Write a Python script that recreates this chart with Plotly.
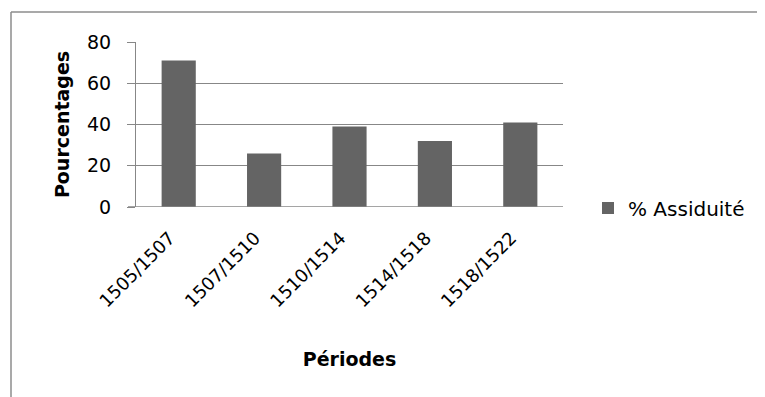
import plotly.graph_objects as go

categories = ["1505/1507", "1507/1510", "1510/1514", "1514/1518", "1518/1522"]
values = [71, 26, 39, 32, 41]
series_name = "% Assiduité"
y_ticks = [0, 20, 40, 60, 80]

# page offset (browser body margin)
OFF = 8
W, H = 765, 397
# plot area in reference pixel coords
X0, X1, Y0, Y1 = 136, 563, 42, 207
L, T = X0 - OFF, Y0 - OFF
R = W - (X1 - OFF)
B = H - (Y1 - OFF)
pw, ph = X1 - X0, Y1 - Y0

def px_x(x):
    return (x - X0) / pw

def px_y(y):
    return (Y1 - y) / ph

FONT = "DejaVu Sans"
GRID = "#878787"
BAR = "#646464"
FS = 19

fig = go.Figure()
fig.add_trace(go.Bar(x=categories, y=values, name=series_name,
                     marker=dict(color=BAR, line=dict(width=0)),
                     showlegend=True))

fig.update_layout(
    width=W, height=H,
    margin=dict(l=L, r=R, t=T, b=B, pad=0, autoexpand=False),
    paper_bgcolor="white", plot_bgcolor="white",
    font=dict(family=FONT, size=FS, color="black"),
    bargap=0.6,
    showlegend=True,
    legend=dict(x=px_x(588), y=px_y(208), xanchor="left", yanchor="middle",
                font=dict(family=FONT, size=20, color="black"),
                bgcolor="rgba(0,0,0,0)", itemclick=False),
    xaxis=dict(
        title=dict(text="<b>Périodes</b>", font=dict(family=FONT, size=FS), standoff=42),
        tickangle=-45, showgrid=False, showline=False, ticks="",
        tickfont=dict(family=FONT, size=18),
        ticklabelstandoff=16, ticklabelshift=-9, zeroline=False, automargin=False,
    ),
    yaxis=dict(
        title=dict(text="<b>Pourcentages</b>", font=dict(family=FONT, size=FS), standoff=12),
        range=[0, 80], tickvals=y_ticks, ticktext=[str(v) for v in y_ticks],
        showgrid=True, gridcolor=GRID, gridwidth=1,
        showline=True, linecolor=GRID, linewidth=1,
        ticks="outside", ticklen=8, tickcolor=GRID, tickwidth=1,
        ticklabelstandoff=12, zeroline=False, automargin=False,
    ),
    shapes=[
        dict(type="line", xref="paper", yref="paper",
             x0=px_x(11), x1=px_x(W + 20), y0=px_y(12), y1=px_y(12),
             line=dict(color="#8c8c8c", width=1.5)),
        dict(type="line", xref="paper", yref="paper",
             x0=px_x(11), x1=px_x(11), y0=px_y(12), y1=px_y(H + 20),
             line=dict(color="#8c8c8c", width=1.5)),
        dict(type="line", xref="paper", yref="y",
             x0=px_x(128), x1=1, y0=0, y1=0,
             line=dict(color=GRID, width=1.5)),
    ],
)

fig.write_html("out.html")
